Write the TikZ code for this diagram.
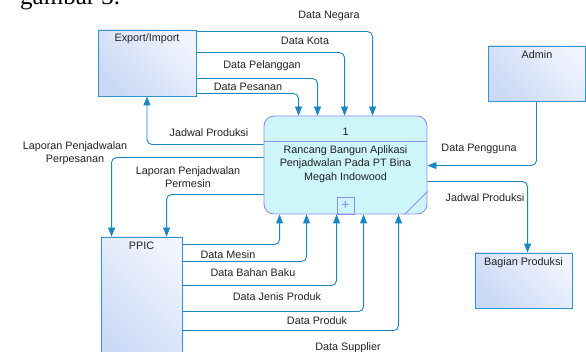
\documentclass[tikz,border=0pt]{standalone}
\usepackage{fontspec}
\setmainfont{Liberation Sans}
\newfontfamily\serifcap{Liberation Serif}
\usetikzlibrary{arrows.meta}
\definecolor{edgeblue}{HTML}{2E95CF}
\definecolor{arrowblue}{HTML}{1A86C6}
\definecolor{boxtop}{HTML}{C9D9F6}
\definecolor{boxbot}{HTML}{F1F3FD}
\definecolor{procfill}{HTML}{CDF6FB}
\definecolor{procedge}{HTML}{8C8CF2}
\definecolor{txt}{HTML}{222222}
\tikzset{
  entity/.style={draw=edgeblue, line width=0.9pt, rectangle, inner sep=0pt,
    left color=boxtop, right color=boxbot, shading angle=135},
  flow/.style={draw=arrowblue, line width=0.9pt, rounded corners=5pt,
    -{Triangle[length=9pt,width=7pt]}},
  lbl/.style={font=\fontsize{10.8}{12.5}\selectfont, text=txt, inner sep=0pt, align=center},
}
\begin{document}
\begin{tikzpicture}[x=1pt,y=-1pt]
\useasboundingbox (0,0) rectangle (586,352);
\clip (0,0) rectangle (586,352);
% caption fragment
\node[anchor=base west, inner sep=0pt, font=\serifcap\fontsize{25}{25}\selectfont] (cap) at (20,4.5) {gambar 3.};
% entities
\node[entity, minimum width=98pt, minimum height=66pt] (exim) at (147,63) {};
\node[lbl] (eximt) at (147,39) {Export/Import};
\node[entity, minimum width=97pt, minimum height=55pt] (admin) at (536.5,73.5) {};
\node[lbl] (admint) at (537,55) {Admin};
\node[entity, minimum width=97pt, minimum height=55pt] (bag) at (523.5,280.5) {};
\node[lbl] (bagt) at (523.5,263) {Bagian Produksi};
\node[entity, minimum width=81pt, minimum height=130pt] (ppic) at (141.5,302) {};
\node[lbl] (ppict) at (141.5,246) {PPIC};
% process
\node[draw=procedge, fill=procfill, line width=0.9pt, rounded corners=10pt, rectangle,
  minimum width=163pt, minimum height=98pt, inner sep=0pt] (proc) at (345.5,165) {};
\draw[procedge, line width=0.9pt] ([yshift=-26pt]proc.north west) -- ([yshift=-26pt]proc.north east);
\draw[procedge, line width=0.9pt] ([xshift=-23pt]proc.south east) -- ([yshift=23pt]proc.south east);
\node[draw=procedge, line width=0.9pt, minimum width=17pt, minimum height=17pt, inner sep=0pt,
  anchor=south, text=procedge, font=\fontsize{14}{14}\selectfont] (plus) at (proc.south) {+};
\node[lbl] (pnum) at (345.5,132) {1};
\node[lbl, font=\fontsize{10.8}{13.5}\selectfont] (ptext) at (345.5,164) {Rancang Bangun Aplikasi\\Penjadwalan Pada PT Bina\\Megah Indowood};
% flows from Export/Import
\draw[flow] ([yshift=-2pt]exim.north east) -| ([xshift=109pt]proc.north west);
\draw[flow] ([yshift=-23pt]exim.north east) -| ([xshift=81pt]proc.north west);
\draw[flow] ([yshift=-49pt]exim.north east) -| ([xshift=54pt]proc.north west);
\draw[flow] ([yshift=-64pt]exim.north east) -| ([xshift=35pt]proc.north west);
\node[lbl] (l1) at (329,16) {Data Negara};
\node[lbl] (l2) at (305,41) {Data Kota};
\node[lbl] (l3) at (262,66) {Data Pelanggan};
\node[lbl] (l4) at (248,87) {Data Pesanan};
% flows out of process on the left
\draw[flow] ([yshift=-29pt]proc.north west) -| (exim.south);
\node[lbl] (l5) at (209,133) {Jadwal Produksi};
\draw[flow] ([yshift=-42pt]proc.north west) -| ([xshift=11pt]ppic.north west);
\node[lbl] (l6) at (75,153) {Laporan Penjadwalan\\Perpesanan};
\draw[flow] ([yshift=-79pt]proc.north west) -| ([xshift=66pt]ppic.north west);
\node[lbl] (l7) at (188,177) {Laporan Penjadwalan\\Permesin};
% right side
\draw[flow] (admin.south) |- ([yshift=-50pt]proc.north east);
\node[lbl] (l8) at (479,149) {Data Pengguna};
\draw[flow] ([yshift=-66pt]proc.north east) -| ([xshift=53pt]bag.north west);
\node[lbl] (l9) at (485,198) {Jadwal Produksi};
% flows from PPIC
\draw[flow] ([yshift=-8pt]ppic.north east) -| ([xshift=16pt]proc.south west);
\draw[flow] ([yshift=-25pt]ppic.north east) -| ([xshift=43pt]proc.south west);
\draw[flow] ([yshift=-49pt]ppic.north east) -| ([xshift=73pt]proc.south west);
\draw[flow] ([yshift=-75pt]ppic.north east) -| ([xshift=100pt]proc.south west);
\draw[flow] ([yshift=-94pt]ppic.north east) -| ([xshift=135pt]proc.south west);
\node[lbl] (l10) at (228,255) {Data Mesin};
\node[lbl] (l11) at (253,273) {Data Bahan Baku};
\node[lbl] (l12) at (277,297) {Data Jenis Produk};
\node[lbl] (l13) at (317,321) {Data Produk};
\node[lbl] (l14) at (348,348) {Data Supplier};
\end{tikzpicture}
\end{document}
